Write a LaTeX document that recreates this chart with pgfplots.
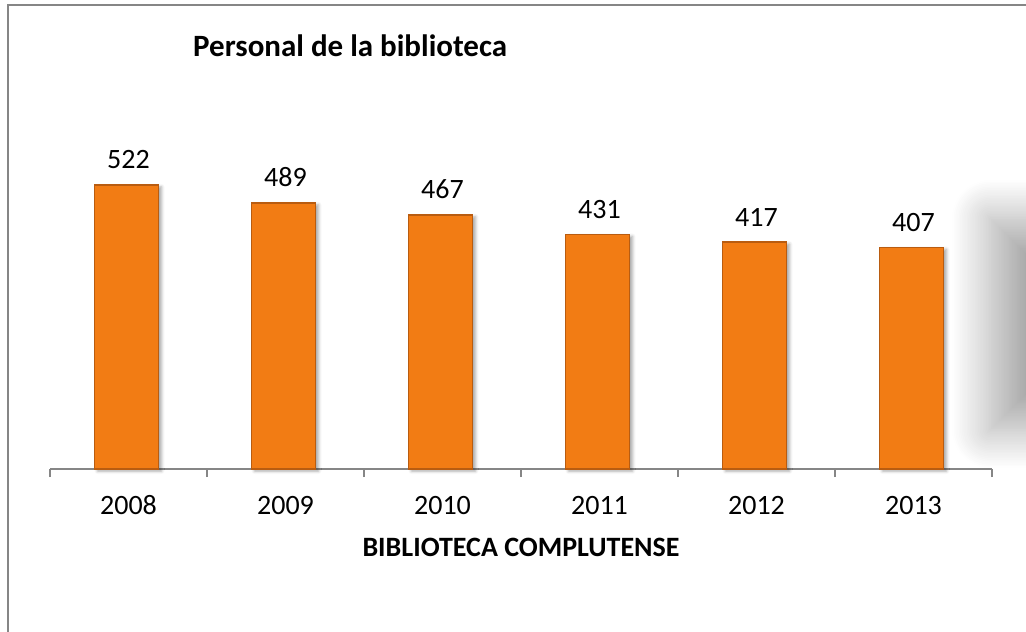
\documentclass[border=0pt]{standalone}
\usepackage{pgfplots}
\pgfplotsset{compat=1.18}
\usepackage{fontspec}
\setmainfont{Carlito}
\usetikzlibrary{shadows.blur}
\definecolor{barorange}{RGB}{242,124,20}
\definecolor{bardark}{RGB}{185,92,16}
\definecolor{axisgray}{RGB}{134,134,134}
\begin{document}
\begin{tikzpicture}[x=1pt,y=1pt]
\useasboundingbox (0,0) rectangle (1026,-632);
\draw[axisgray, line width=2pt] (8,-640) -- (8,-5) -- (1030,-5);
\begin{scope}
\clip (0,0) rectangle (1026,-632);
\path[blur shadow={shadow xshift=0pt, shadow yshift=0pt, shadow blur radius=38pt, shadow opacity=34, shadow blur steps=24}] (990,-218) rectangle (1130,-430);
\end{scope}
\node[anchor=base west, font=\fontsize{31}{36}\selectfont\bfseries, inner sep=0pt] at (193,-56) {Personal de la biblioteca};
\begin{axis}[
  at={(50pt,-469pt)}, anchor=south west,
  scale only axis, width=942pt, height=369pt,
  xmin=-0.5, xmax=5.5, ymin=0, ymax=678,
  axis y line=none, axis x line*=bottom,
  axis line style={axisgray, line width=1.5pt},
  xtick={0,...,5},
  xticklabels={2008,2009,2010,2011,2012,2013},
  major tick length=0pt,
  minor xtick={-0.5,0.5,...,5.5},
  minor tick length=8pt,
  tick align=outside,
  tick style={axisgray, line width=1.5pt},
  xticklabel style={font=\fontsize{28}{32}\selectfont, anchor=base, yshift=-45pt, inner sep=0pt},
  /pgf/number format/assume math mode=true,
  clip=false,
]
\addplot[ybar, bar width=64pt, bar shift=-2pt, fill=barorange, draw=bardark, line width=1.5pt,
  blur shadow={shadow xshift=3pt, shadow yshift=-2pt, shadow blur radius=3pt, shadow opacity=35}]
  coordinates {(0,522) (1,489) (2,467) (3,431) (4,417) (5,407)};
\addplot[ybar, bar width=64pt, bar shift=-2pt, draw=none, fill=none,
  nodes near coords={\pgfmathprintnumber\pgfplotspointmeta},
  nodes near coords style={font=\fontsize{28}{32}\selectfont, anchor=base, yshift=16pt, inner sep=0pt, text=black}]
  coordinates {(0,522) (1,489) (2,467) (3,431) (4,417) (5,407)};
\end{axis}
\node[anchor=base, font=\fontsize{28}{32}\selectfont\bfseries, inner sep=0pt] at (521,-556) {BIBLIOTECA COMPLUTENSE};
\end{tikzpicture}
\end{document}
